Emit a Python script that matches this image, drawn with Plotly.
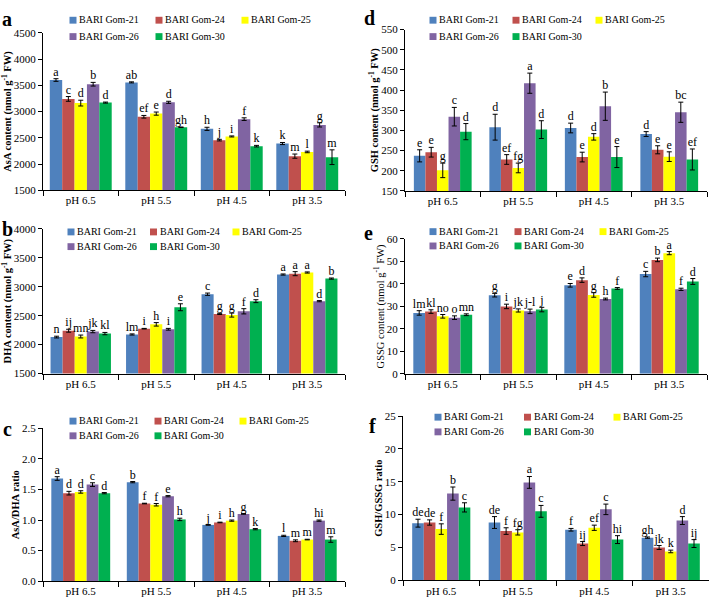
import plotly.graph_objects as go

FONT = "Liberation Serif"
W, H = 709, 605

ph_labels = ["pH 6.5", "pH 5.5", "pH 4.5", "pH 3.5"]
cultivars = ["BARI Gom-21", "BARI Gom-24", "BARI Gom-25", "BARI Gom-26", "BARI Gom-30"]
colors = ["#4F81BD", "#C0504D", "#FFFF00", "#8064A2", "#00B050"]

# (a) AsA content
asa_values = [[3600, 3555, 2670, 2390], [3240, 2900, 2455, 2150], [3160, 2960, 2525, 2230],
              [3520, 3175, 2855, 2745], [3170, 2700, 2340, 2130]]
asa_errors = [[25, 10, 30, 20], [45, 25, 15, 40], [55, 30, 10, 15], [35, 20, 25, 40], [10, 5, 15, 140]]
asa_letters = [["a", "ab", "h", "k"], ["c", "ef", "j", "m"], ["d", "e", "i", "l"],
               ["b", "d", "f", "g"], ["d", "gh", "k", "m"]]

# (b) DHA content
dha_values = [[2130, 2175, 2870, 3210], [2240, 2275, 2530, 3225], [2140, 2350, 2510, 3245],
              [2225, 2265, 2575, 2750], [2190, 2645, 2750, 3140]]
dha_errors = [[15, 10, 20, 10], [25, 5, 10, 35], [25, 30, 35, 10], [20, 15, 45, 10], [20, 60, 25, 10]]
dha_letters = [["n", "lm", "c", "a"], ["ij", "i", "g", "a"], ["mn", "h", "g", "a"],
               ["jk", "i", "f", "d"], ["kl", "e", "d", "b"]]

# (c) AsA/DHA ratio
ratio1_values = [[1.68, 1.62, 0.92, 0.74], [1.44, 1.27, 0.96, 0.66], [1.46, 1.25, 0.99, 0.68],
                 [1.58, 1.39, 1.10, 0.99], [1.44, 1.01, 0.85, 0.68]]
ratio1_errors = [[0.03, 0.01, 0.005, 0.01], [0.03, 0.005, 0.005, 0.015], [0.02, 0.02, 0.01, 0.005],
                 [0.03, 0.01, 0.005, 0.01], [0.01, 0.02, 0.01, 0.045]]
ratio1_letters = [["a", "b", "j", "l"], ["d", "f", "i", "m"], ["d", "f", "h", "m"],
                  ["c", "e", "g", "hi"], ["d", "h", "k", "m"]]

# (d) GSH content
gsh_values = [[237, 308, 306, 291], [246, 228, 234, 252], [201, 207, 284, 235],
              [334, 417, 360, 345], [297, 302, 234, 228]]
gsh_errors = [[15, 32, 12, 6], [12, 12, 12, 10], [18, 12, 8, 12], [23, 25, 35, 25], [20, 22, 26, 26]]
gsh_letters = [["e", "d", "d", "d"], ["e", "ef", "e", "e"], ["g", "fg", "d", "e"],
               ["c", "a", "b", "bc"], ["d", "d", "e", "ef"]]

# (e) GSSG content
gssg_values = [[27.1, 35.0, 39.4, 44.4], [27.7, 30.0, 41.7, 50.7], [25.6, 28.2, 35.1, 53.7],
               [25.0, 27.8, 33.3, 37.6], [26.3, 28.6, 38.0, 41.1]]
gssg_errors = [[1.0, 0.8, 0.8, 1.2], [0.8, 1.0, 1.0, 0.8], [0.8, 0.7, 1.0, 0.7],
               [0.8, 1.0, 0.4, 0.5], [0.4, 1.0, 0.4, 1.3]]
gssg_letters = [["lm", "g", "e", "c"], ["kl", "i", "d", "b"], ["no", "jk", "g", "a"],
                ["o", "j-l", "h", "f"], ["mn", "j", "f", "d"]]

# (f) GSH/GSSG ratio
ratio2_values = [[8.7, 8.8, 7.7, 6.5], [8.8, 7.5, 5.6, 5.0], [7.8, 7.3, 8.0, 4.4],
                 [13.2, 14.9, 10.8, 9.1], [11.1, 10.5, 6.2, 5.6]]
ratio2_errors = [[0.6, 0.9, 0.2, 0.1], [0.4, 0.5, 0.3, 0.3], [0.8, 0.4, 0.4, 0.2],
                 [1.0, 0.9, 0.8, 0.6], [0.7, 0.9, 0.6, 0.6]]
ratio2_letters = [["de", "de", "f", "gh"], ["de", "f", "ij", "jk"], ["f", "fg", "ef", "k"],
                  ["b", "a", "c", "d"], ["c", "c", "hi", "ij"]]

# panel layout (pixel positions)
panels = [
    dict(tag="a", vals=asa_values, errs=asa_errors, lets=asa_letters,
         title="AsA content (nmol g<sup>-1</sup> FW)", bold=True, yr=[1500, 4500], dt=500, fmt="",
         px=(43, 345), py=(27.3, 188), gap=0.18, lx=78, lrows=(14, 30.7), lpitch=86, lab=(7, 13)),
    dict(tag="b", vals=dha_values, errs=dha_errors, lets=dha_letters,
         title="DHA content (nmol g<sup>-1</sup> FW)", bold=True, yr=[1500, 4000], dt=500, fmt="",
         px=(43, 345), py=(227.3, 375), gap=0.20, lx=76, lrows=(230, 245), lpitch=82.5, lab=(7, 228)),
    dict(tag="c", vals=ratio1_values, errs=ratio1_errors, lets=ratio1_letters,
         title="AsA/DHA ratio", bold=True, yr=[0, 2.5], dt=0.5, fmt=".1f",
         px=(43, 345), py=(431, 586.7), gap=0.22, lx=78, lrows=(423, 438), lpitch=85, lab=(7, 432)),
    dict(tag="d", vals=gsh_values, errs=gsh_errors, lets=gsh_letters,
         title="GSH content (nmol g<sup>-1</sup> FW)", bold=True, yr=[150, 550], dt=50, fmt="",
         px=(405, 707), py=(24, 188.7), gap=0.235, lx=438, lrows=(14, 30.7), lpitch=83, lab=(369, 12)),
    dict(tag="e", vals=gssg_values, errs=gssg_errors, lets=gssg_letters,
         title="GSSG content (nmol g<sup>-1</sup> FW)", bold=False, yr=[0, 60], dt=10, fmt="",
         px=(405, 707), py=(237.7, 375.3), gap=0.22, lx=438, lrows=(229.7, 244.3), lpitch=85, lab=(368, 232)),
    dict(tag="f", vals=ratio2_values, errs=ratio2_errors, lets=ratio2_letters,
         title="GSH/GSSG ratio", bold=True, yr=[0, 25], dt=5, fmt="",
         px=(403, 709), py=(418.3, 586), gap=0.24, lx=443, lrows=(419, 434), lpitch=89.5, lab=(373, 428)),
]

fig = go.Figure()
layout = dict(width=W, height=H, margin=dict(l=0, r=0, t=0, b=0), paper_bgcolor="white",
              plot_bgcolor="white", barmode="overlay", showlegend=False,
              font=dict(family=FONT, size=11, color="black"), annotations=[], shapes=[])

cats = list(range(len(ph_labels)))

for p, pn in enumerate(panels):
    n = p + 1
    xa = "x" if n == 1 else f"x{n}"
    ya = "y" if n == 1 else f"y{n}"
    nser = len(cultivars)
    bw = (1 - pn["gap"]) / nser
    for j, name in enumerate(cultivars):
        off = -(1 - pn["gap"]) / 2 + j * bw
        fig.add_trace(go.Bar(
            x=cats, y=pn["vals"][j], width=bw, offset=off, name=name,
            marker=dict(color=colors[j], line=dict(width=0)),
            error_y=dict(type="data", array=pn["errs"][j], color="black", thickness=1, width=2.5),
            xaxis=xa, yaxis=ya, showlegend=False))
        tops = [v + e for v, e in zip(pn["vals"][j], pn["errs"][j])]
        fig.add_trace(go.Scatter(
            x=[c + off + bw / 2 for c in cats], y=tops, mode="text", text=pn["lets"][j],
            textposition="top center", textfont=dict(family=FONT, size=12, color="black"),
            xaxis=xa, yaxis=ya, showlegend=False, hoverinfo="skip", cliponaxis=False))

        # legend entry (swatch + label), two rows of three/two
        row, col = divmod(j, 3)
        tx = pn["lx"] + col * pn["lpitch"]
        ty = pn["lrows"][row]
        layout["shapes"].append(dict(
            type="rect", xref="paper", yref="paper", x0=(tx - 8.5) / W, x1=(tx - 1.5) / W,
            y0=1 - (ty + 4) / H, y1=1 - (ty - 3) / H, fillcolor=colors[j], line=dict(width=0)))
        layout["annotations"].append(dict(
            text=name, x=(tx - 1) / W, y=1 - ty / H, xref="paper", yref="paper",
            xanchor="left", yanchor="middle", showarrow=False,
            font=dict(family=FONT, size=10, color="black")))

    x0, x1 = pn["px"]
    ytop, ybot = pn["py"]
    layout["xaxis" if n == 1 else f"xaxis{n}"] = dict(
        domain=[x0 / W, x1 / W], anchor=ya, range=[-0.5, len(cats) - 0.5],
        tickmode="array", tickvals=cats, ticktext=ph_labels, ticks="",
        minor=dict(tick0=-0.5, dtick=1, ticks="outside", ticklen=5, tickcolor="black", tickwidth=1),
        showline=True, linecolor="black", linewidth=1, showgrid=False, zeroline=False,
        tickfont=dict(family=FONT, size=11), fixedrange=True)
    layout["yaxis" if n == 1 else f"yaxis{n}"] = dict(
        domain=[1 - ybot / H, 1 - ytop / H], anchor=xa, range=pn["yr"], tick0=pn["yr"][0], dtick=pn["dt"],
        tickformat=pn["fmt"], ticks="outside", ticklen=4, tickcolor="black", showline=True,
        linecolor="black", linewidth=1, showgrid=False, zeroline=False,
        tickfont=dict(family=FONT, size=11), fixedrange=True,
        title=dict(text=pn["title"], standoff=0,
                   font=dict(family=FONT, size=10.5, weight="bold" if pn["bold"] else "normal")))
    layout["annotations"].append(dict(
        text=f"<b>{pn['tag']}</b>", x=pn["lab"][0] / W, y=1 - pn["lab"][1] / H, xref="paper", yref="paper",
        xanchor="center", yanchor="middle", showarrow=False, font=dict(family=FONT, size=20, color="black")))

fig.update_layout(**layout)
fig.write_html("out.html", config={"displayModeBar": False},
               post_script="document.body.style.margin='0';")
